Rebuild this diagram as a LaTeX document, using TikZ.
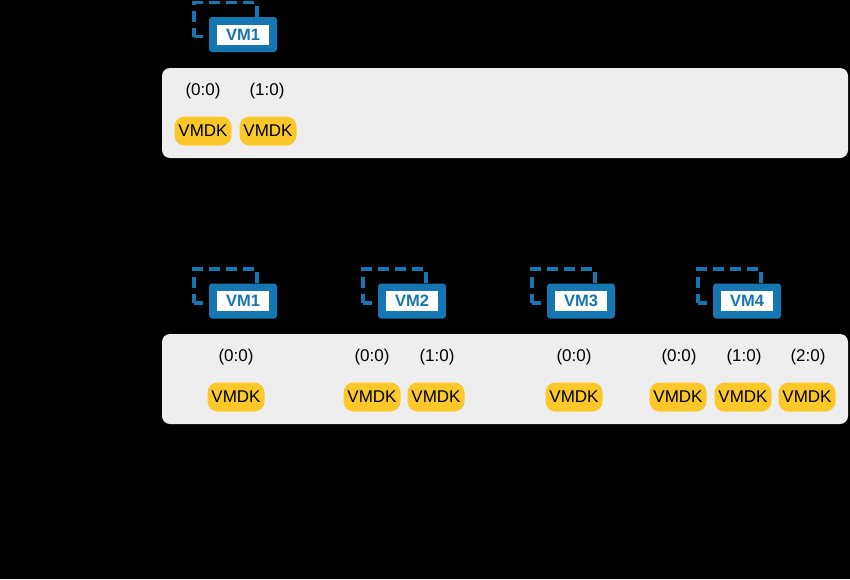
\documentclass[tikz,border=0pt]{standalone}
\usepackage{fontspec}
\setmainfont{Liberation Sans}
\definecolor{vmblue}{RGB}{22,118,178}
\definecolor{panelgray}{RGB}{238,238,238}
\definecolor{vmdkyellow}{RGB}{250,200,40}
\tikzset{
  panel/.style={fill=panelgray, rounded corners=8pt, draw=none, inner sep=0pt},
  dashbox/.style={draw=vmblue, line width=3.5pt, dash pattern=on 11pt off 6pt, dash phase=2pt, minimum width=63pt, minimum height=34pt, inner sep=0pt},
  vmbox/.style={fill=vmblue, rounded corners=3pt, minimum width=68pt, minimum height=35pt, inner sep=0pt},
  vmlabel/.style={fill=white, text=vmblue, font=\fontsize{16.5}{18}\selectfont\bfseries, minimum width=52pt, minimum height=20pt, inner sep=0pt},
  vmdk/.style={fill=vmdkyellow, rounded corners=10pt, minimum width=57pt, minimum height=29pt, inner sep=0pt, font=\fontsize{17}{19}\selectfont},
  lun/.style={font=\fontsize{17}{19}\selectfont, inner sep=0pt}
}
\newcommand{\vmicon}[4]{%
  \node[dashbox] (#1d) at (#2-17.5,#3-15) {};
  \node[vmbox] (#1b) at (#2,#3) {};
  \node[vmlabel] (#1t) at (#2,#3) {#4};
}
\begin{document}
\begin{tikzpicture}[x=1pt,y=-1pt]
\useasboundingbox (0,0) rectangle (850,579);
\fill[black] (0,0) rectangle (850,579);
% top
\vmicon{a}{243}{34.5}{VM1}
\node[panel, minimum width=686pt, minimum height=90pt] (p1) at (505,113) {};
\node[lun] (l11) at (203,91) {(0:0)};
\node[lun] (l12) at (267,91) {(1:0)};
\node[vmdk] (d11) at (203,131) {VMDK};
\node[vmdk] (d12) at (268,131) {VMDK};
% bottom
\vmicon{b}{243}{301}{VM1}
\vmicon{c}{412}{301}{VM2}
\vmicon{e}{581}{301}{VM3}
\vmicon{f}{747}{301}{VM4}
\node[panel, minimum width=686pt, minimum height=90pt] (p2) at (505,379) {};
\node[lun] (l21) at (236,357) {(0:0)};
\node[lun] (l22) at (372,357) {(0:0)};
\node[lun] (l23) at (437,357) {(1:0)};
\node[lun] (l24) at (574,357) {(0:0)};
\node[lun] (l25) at (679,357) {(0:0)};
\node[lun] (l26) at (744,357) {(1:0)};
\node[lun] (l27) at (808,357) {(2:0)};
\node[vmdk] (d21) at (236,397) {VMDK};
\node[vmdk] (d22) at (372,397) {VMDK};
\node[vmdk] (d23) at (436,397) {VMDK};
\node[vmdk] (d24) at (574,397) {VMDK};
\node[vmdk] (d25) at (678,397) {VMDK};
\node[vmdk] (d26) at (743,397) {VMDK};
\node[vmdk] (d27) at (807,397) {VMDK};
\end{tikzpicture}
\end{document}
